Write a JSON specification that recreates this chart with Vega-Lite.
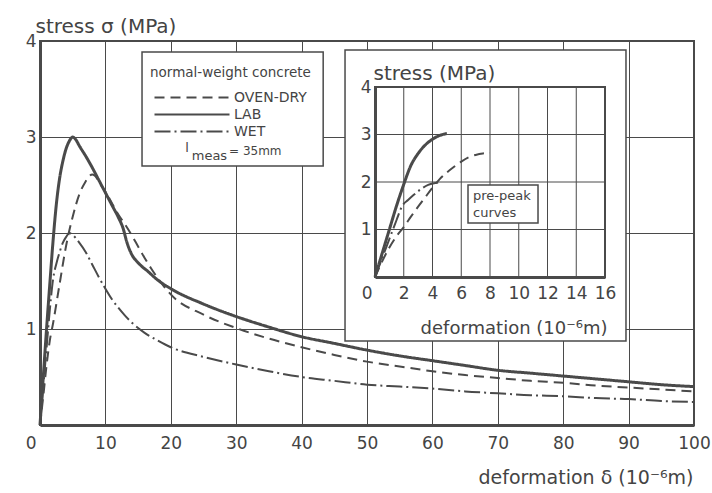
{
  "$schema": "https://vega.github.io/schema/vega-lite/v6.json",
  "width": 654,
  "height": 384,
  "autosize": "none",
  "padding": {"left": 40, "top": 41, "right": 18, "bottom": 68},
  "background": "white",
  "config": {
    "font": "DejaVu Sans",
    "view": {"stroke": "#4a4a4a", "strokeWidth": 2},
    "axis": {"labelColor": "#444", "titleColor": "#444", "titleFontWeight": "normal", "labelFont": "DejaVu Sans", "titleFont": "DejaVu Sans"},
    "legend": {"labelFont": "DejaVu Sans", "titleFont": "DejaVu Sans"}
  },
  "datasets": {
    "main": [
      {"series":"LAB","deformation":0,"stress":0},{"series":"LAB","deformation":0.5,"stress":0.5},{"series":"LAB","deformation":1,"stress":1.0},{"series":"LAB","deformation":1.5,"stress":1.47},{"series":"LAB","deformation":2,"stress":1.92},{"series":"LAB","deformation":2.5,"stress":2.3},{"series":"LAB","deformation":3,"stress":2.57},{"series":"LAB","deformation":3.5,"stress":2.75},{"series":"LAB","deformation":4,"stress":2.88},{"series":"LAB","deformation":4.5,"stress":2.96},{"series":"LAB","deformation":5,"stress":3.0},{"series":"LAB","deformation":5.5,"stress":2.97},{"series":"LAB","deformation":6,"stress":2.91},{"series":"LAB","deformation":7,"stress":2.8},{"series":"LAB","deformation":8,"stress":2.68},{"series":"LAB","deformation":9,"stress":2.55},{"series":"LAB","deformation":10,"stress":2.42},{"series":"LAB","deformation":11,"stress":2.29},{"series":"LAB","deformation":12,"stress":2.16},{"series":"LAB","deformation":12.7,"stress":2.05},{"series":"LAB","deformation":13.3,"stress":1.9},{"series":"LAB","deformation":14,"stress":1.78},{"series":"LAB","deformation":15,"stress":1.69},{"series":"LAB","deformation":16.5,"stress":1.6},{"series":"LAB","deformation":18,"stress":1.51},{"series":"LAB","deformation":20,"stress":1.42},{"series":"LAB","deformation":25,"stress":1.26},{"series":"LAB","deformation":30,"stress":1.13},{"series":"LAB","deformation":35,"stress":1.02},{"series":"LAB","deformation":40,"stress":0.92},{"series":"LAB","deformation":45,"stress":0.85},{"series":"LAB","deformation":50,"stress":0.78},{"series":"LAB","deformation":55,"stress":0.72},{"series":"LAB","deformation":60,"stress":0.67},{"series":"LAB","deformation":65,"stress":0.62},{"series":"LAB","deformation":70,"stress":0.57},{"series":"LAB","deformation":75,"stress":0.54},{"series":"LAB","deformation":80,"stress":0.51},{"series":"LAB","deformation":85,"stress":0.48},{"series":"LAB","deformation":90,"stress":0.45},{"series":"LAB","deformation":95,"stress":0.42},{"series":"LAB","deformation":100,"stress":0.4},
      {"series":"OVEN-DRY","deformation":0,"stress":0},{"series":"OVEN-DRY","deformation":0.5,"stress":0.3},{"series":"OVEN-DRY","deformation":1,"stress":0.62},{"series":"OVEN-DRY","deformation":1.5,"stress":0.88},{"series":"OVEN-DRY","deformation":2,"stress":1.06},{"series":"OVEN-DRY","deformation":3,"stress":1.47},{"series":"OVEN-DRY","deformation":4,"stress":1.87},{"series":"OVEN-DRY","deformation":5,"stress":2.17},{"series":"OVEN-DRY","deformation":6,"stress":2.4},{"series":"OVEN-DRY","deformation":7,"stress":2.54},{"series":"OVEN-DRY","deformation":7.5,"stress":2.59},{"series":"OVEN-DRY","deformation":8,"stress":2.61},{"series":"OVEN-DRY","deformation":8.5,"stress":2.59},{"series":"OVEN-DRY","deformation":9,"stress":2.53},{"series":"OVEN-DRY","deformation":10,"stress":2.43},{"series":"OVEN-DRY","deformation":11,"stress":2.31},{"series":"OVEN-DRY","deformation":12,"stress":2.19},{"series":"OVEN-DRY","deformation":13,"stress":2.09},{"series":"OVEN-DRY","deformation":14,"stress":1.98},{"series":"OVEN-DRY","deformation":15,"stress":1.86},{"series":"OVEN-DRY","deformation":16,"stress":1.74},{"series":"OVEN-DRY","deformation":17,"stress":1.63},{"series":"OVEN-DRY","deformation":18,"stress":1.53},{"series":"OVEN-DRY","deformation":19,"stress":1.44},{"series":"OVEN-DRY","deformation":20,"stress":1.36},{"series":"OVEN-DRY","deformation":25,"stress":1.15},{"series":"OVEN-DRY","deformation":30,"stress":1.01},{"series":"OVEN-DRY","deformation":35,"stress":0.9},{"series":"OVEN-DRY","deformation":40,"stress":0.81},{"series":"OVEN-DRY","deformation":45,"stress":0.73},{"series":"OVEN-DRY","deformation":50,"stress":0.66},{"series":"OVEN-DRY","deformation":55,"stress":0.61},{"series":"OVEN-DRY","deformation":60,"stress":0.56},{"series":"OVEN-DRY","deformation":65,"stress":0.52},{"series":"OVEN-DRY","deformation":70,"stress":0.49},{"series":"OVEN-DRY","deformation":75,"stress":0.46},{"series":"OVEN-DRY","deformation":80,"stress":0.44},{"series":"OVEN-DRY","deformation":85,"stress":0.41},{"series":"OVEN-DRY","deformation":90,"stress":0.39},{"series":"OVEN-DRY","deformation":95,"stress":0.37},{"series":"OVEN-DRY","deformation":100,"stress":0.35},
      {"series":"WET","deformation":0,"stress":0},{"series":"WET","deformation":0.5,"stress":0.4},{"series":"WET","deformation":1,"stress":0.8},{"series":"WET","deformation":1.5,"stress":1.2},{"series":"WET","deformation":2,"stress":1.52},{"series":"WET","deformation":2.5,"stress":1.68},{"series":"WET","deformation":3,"stress":1.8},{"series":"WET","deformation":3.5,"stress":1.9},{"series":"WET","deformation":4,"stress":1.96},{"series":"WET","deformation":4.5,"stress":2.0},{"series":"WET","deformation":5,"stress":1.98},{"series":"WET","deformation":6,"stress":1.9},{"series":"WET","deformation":7,"stress":1.8},{"series":"WET","deformation":8,"stress":1.67},{"series":"WET","deformation":9,"stress":1.54},{"series":"WET","deformation":10,"stress":1.42},{"series":"WET","deformation":11,"stress":1.31},{"series":"WET","deformation":12,"stress":1.22},{"series":"WET","deformation":13,"stress":1.14},{"series":"WET","deformation":14,"stress":1.07},{"series":"WET","deformation":15,"stress":1.01},{"series":"WET","deformation":16,"stress":0.96},{"series":"WET","deformation":18,"stress":0.88},{"series":"WET","deformation":20,"stress":0.81},{"series":"WET","deformation":25,"stress":0.71},{"series":"WET","deformation":30,"stress":0.63},{"series":"WET","deformation":35,"stress":0.56},{"series":"WET","deformation":40,"stress":0.5},{"series":"WET","deformation":45,"stress":0.46},{"series":"WET","deformation":50,"stress":0.42},{"series":"WET","deformation":55,"stress":0.4},{"series":"WET","deformation":60,"stress":0.38},{"series":"WET","deformation":65,"stress":0.35},{"series":"WET","deformation":70,"stress":0.33},{"series":"WET","deformation":75,"stress":0.31},{"series":"WET","deformation":80,"stress":0.3},{"series":"WET","deformation":85,"stress":0.28},{"series":"WET","deformation":90,"stress":0.27},{"series":"WET","deformation":95,"stress":0.25},{"series":"WET","deformation":100,"stress":0.24}
    ],
    "inset": [
      {"series":"LAB","d":0,"s":0},{"series":"LAB","d":0.5,"s":0.5},{"series":"LAB","d":1,"s":1.0},{"series":"LAB","d":1.5,"s":1.5},{"series":"LAB","d":2,"s":1.95},{"series":"LAB","d":2.5,"s":2.35},{"series":"LAB","d":3,"s":2.6},{"series":"LAB","d":3.5,"s":2.78},{"series":"LAB","d":4,"s":2.9},{"series":"LAB","d":4.5,"s":2.98},{"series":"LAB","d":5,"s":3.02},
      {"series":"WET","d":0,"s":0},{"series":"WET","d":0.5,"s":0.4},{"series":"WET","d":1,"s":0.8},{"series":"WET","d":1.5,"s":1.2},{"series":"WET","d":1.9,"s":1.5},{"series":"WET","d":2.3,"s":1.62},{"series":"WET","d":2.7,"s":1.73},{"series":"WET","d":3.2,"s":1.85},{"series":"WET","d":3.7,"s":1.94},{"series":"WET","d":4.2,"s":1.98},{"series":"WET","d":4.6,"s":2.0},
      {"series":"OVEN-DRY","d":0,"s":0},{"series":"OVEN-DRY","d":0.5,"s":0.33},{"series":"OVEN-DRY","d":1,"s":0.62},{"series":"OVEN-DRY","d":1.5,"s":0.86},{"series":"OVEN-DRY","d":2,"s":1.05},{"series":"OVEN-DRY","d":2.5,"s":1.27},{"series":"OVEN-DRY","d":3,"s":1.48},{"series":"OVEN-DRY","d":3.5,"s":1.68},{"series":"OVEN-DRY","d":4,"s":1.88},{"series":"OVEN-DRY","d":4.5,"s":2.06},{"series":"OVEN-DRY","d":5,"s":2.2},{"series":"OVEN-DRY","d":5.5,"s":2.32},{"series":"OVEN-DRY","d":6,"s":2.43},{"series":"OVEN-DRY","d":6.5,"s":2.52},{"series":"OVEN-DRY","d":7,"s":2.57},{"series":"OVEN-DRY","d":7.5,"s":2.6},{"series":"OVEN-DRY","d":8,"s":2.61}
    ],
    "igx": [{"v":0},{"v":2},{"v":4},{"v":6},{"v":8},{"v":10},{"v":12},{"v":14},{"v":16}],
    "igy": [{"v":0},{"v":1},{"v":2},{"v":3},{"v":4}]
  },
  "layer": [
    {
      "layer": [
        {
          "data": {"values": [{}]},
          "mark": {"type": "rect", "fill": "white", "stroke": "#4a4a4a", "strokeWidth": 1.5},
          "encoding": {
            "x": {"datum": 15.6, "type": "quantitative"}, "x2": {"datum": 43.3},
            "y": {"datum": 3.885, "type": "quantitative"}, "y2": {"datum": 2.698}
          }
        },
        {
          "data": {"values": [{}]},
          "mark": {"type": "rect", "fill": "white", "stroke": "#4a4a4a", "strokeWidth": 1.5},
          "encoding": {
            "x": {"datum": 46.64, "type": "quantitative"}, "x2": {"datum": 89.6},
            "y": {"datum": 3.906, "type": "quantitative"}, "y2": {"datum": 0.875}
          }
        },
        {
          "data": {"name": "main"},
          "mark": {"type": "line", "color": "#4a4a4a", "interpolate": "monotone"},
          "encoding": {
            "x": {
              "field": "deformation", "type": "quantitative",
              "scale": {"domain": [0, 100], "nice": false, "zero": true},
              "axis": {
                "values": [0,10,20,30,40,50,60,70,80,90,100], "format": "d",
                "title": "deformation δ (10⁻⁶m)",
                "titleAnchor": "end", "titleAlign": "right", "titleBaseline": "alphabetic",
                "titleX": 653, "titleY": 58, "titleFontSize": 19,
                "labelFontSize": 17, "labelPadding": 10, "ticks": false, "grid": true,
                "labelAlign": {"condition": {"test": "datum.value === 0", "value": "right"}, "value": "center"},
                "labelOffset": {"condition": {"test": "datum.value === 0", "value": -4}, "value": 0},
                "domainColor": "#4a4a4a", "domainWidth": 3,
                "gridColor": "#4a4a4a", "gridWidth": 1, "gridOpacity": 1
              }
            },
            "y": {
              "field": "stress", "type": "quantitative",
              "scale": {"domain": [0, 4], "nice": false},
              "axis": {
                "values": [1,2,3,4], "format": "d",
                "title": "stress σ (MPa)",
                "titleAngle": 0, "titleAlign": "left", "titleBaseline": "alphabetic",
                "titleX": -5, "titleY": -9, "titleFontSize": 20,
                "labelFontSize": 17, "labelPadding": 4, "ticks": false, "grid": true,
                "domainColor": "#4a4a4a", "domainWidth": 3,
                "gridColor": "#4a4a4a", "gridWidth": 1, "gridOpacity": 1
              }
            },
            "strokeDash": {
              "field": "series", "type": "nominal",
              "scale": {"domain": ["OVEN-DRY", "LAB", "WET"], "range": [[10, 6], [1, 0], [16, 4, 2, 4]]},
              "legend": {
                "orient": "none", "legendX": 110, "legendY": 25,
                "title": "normal-weight concrete", "titleFontSize": 13.5, "titleFontWeight": "normal", "titleColor": "#444", "titlePadding": 10,
                "labelFontSize": 14, "labelColor": "#444", "labelOffset": 3,
                "symbolType": "stroke", "symbolSize": 5625, "symbolStrokeColor": "#4a4a4a", "symbolStrokeWidth": 2.2,
                "symbolOffset": 3, "clipHeight": 16, "rowPadding": 1, "padding": 0
              }
            },
            "strokeWidth": {"condition": {"test": "datum.series === 'LAB'", "value": 3}, "value": 2}
          }
        },
        {
          "data": {"values": [{}]},
          "mark": {"type": "text", "align": "left", "baseline": "alphabetic", "fontSize": 13, "color": "#444"},
          "encoding": {"x": {"datum": 22.2, "type": "quantitative"}, "y": {"datum": 2.84, "type": "quantitative"}, "text": {"value": "l"}}
        },
        {
          "data": {"values": [{}]},
          "mark": {"type": "text", "align": "left", "baseline": "alphabetic", "fontSize": 13, "color": "#444"},
          "encoding": {"x": {"datum": 23.2, "type": "quantitative"}, "y": {"datum": 2.76, "type": "quantitative"}, "text": {"value": "meas"}}
        },
        {
          "data": {"values": [{}]},
          "mark": {"type": "text", "align": "left", "baseline": "alphabetic", "fontSize": 12, "color": "#444"},
          "encoding": {"x": {"datum": 28.9, "type": "quantitative"}, "y": {"datum": 2.81, "type": "quantitative"}, "text": {"value": "= 35mm"}}
        }
      ]
    },
    {
      "layer": [
        {
          "data": {"name": "igx"},
          "mark": {"type": "rule", "color": "#4a4a4a", "strokeWidth": 1},
          "encoding": {
            "x": {"field": "v", "type": "quantitative", "scale": {"domain": [0, 16], "range": [335, 565], "nice": false}},
            "y": {"datum": 0, "type": "quantitative", "scale": {"domain": [0, 4], "range": [236, 46], "nice": false}},
            "y2": {"datum": 4}
          }
        },
        {
          "data": {"name": "igy"},
          "mark": {"type": "rule", "color": "#4a4a4a", "strokeWidth": 1},
          "encoding": {
            "y": {"field": "v", "type": "quantitative"},
            "x": {"datum": 0, "type": "quantitative"},
            "x2": {"datum": 16}
          }
        },
        {
          "data": {"values": [{}]},
          "mark": {"type": "rect", "filled": false, "stroke": "#4a4a4a", "strokeWidth": 2},
          "encoding": {
            "x": {"datum": 0, "type": "quantitative"}, "x2": {"datum": 16},
            "y": {"datum": 0, "type": "quantitative"}, "y2": {"datum": 4}
          }
        },
        {
          "data": {"values": [{}]},
          "mark": {"type": "rect", "fill": "white", "stroke": "#4a4a4a", "strokeWidth": 1.5},
          "encoding": {
            "x": {"datum": 6.47, "type": "quantitative"}, "x2": {"datum": 11.34},
            "y": {"datum": 1.937, "type": "quantitative"}, "y2": {"datum": 1.137}
          }
        },
        {
          "data": {"values": [{}]},
          "mark": {"type": "text", "align": "left", "baseline": "alphabetic", "fontSize": 13, "lineHeight": 17, "color": "#444"},
          "encoding": {
            "x": {"datum": 6.82, "type": "quantitative"}, "y": {"datum": 1.62, "type": "quantitative"},
            "text": {"value": ["pre-peak", "curves"]}
          }
        },
        {
          "data": {"name": "inset"},
          "mark": {"type": "line", "color": "#4a4a4a", "interpolate": "monotone"},
          "encoding": {
            "x": {
              "field": "d", "type": "quantitative",
              "axis": {
                "orient": "bottom", "offset": -148, "zindex": 1,
                "values": [0,2,4,6,8,10,12,14,16], "format": "d", "grid": false, "ticks": false,
                "title": "deformation (10⁻⁶m)",
                "titleAnchor": "end", "titleAlign": "right", "titleBaseline": "alphabetic",
                "titleX": 567, "titleY": 56, "titleFontSize": 18,
                "labelFontSize": 17, "labelPadding": 8,
                "labelAlign": {"condition": {"test": "datum.value === 0", "value": "right"}, "value": "center"},
                "labelOffset": {"condition": {"test": "datum.value === 0", "value": -3}, "value": 0},
                "domainColor": "#4a4a4a", "domainWidth": 3
              }
            },
            "y": {
              "field": "s", "type": "quantitative",
              "axis": {
                "orient": "left", "offset": -335, "zindex": 1,
                "values": [1,2,3,4], "format": "d", "grid": false, "ticks": false,
                "title": "stress (MPa)",
                "titleAngle": 0, "titleAlign": "left", "titleBaseline": "alphabetic",
                "titleX": -2, "titleY": 38, "titleFontSize": 20,
                "labelFontSize": 17, "labelPadding": 4,
                "domainColor": "#4a4a4a", "domainWidth": 3
              }
            },
            "strokeDash": {"field": "series", "type": "nominal"},
            "strokeWidth": {"condition": {"test": "datum.series === 'LAB'", "value": 3}, "value": 2}
          }
        }
      ]
    }
  ],
  "resolve": {"scale": {"x": "independent", "y": "independent"}, "axis": {"x": "independent", "y": "independent"}}
}
